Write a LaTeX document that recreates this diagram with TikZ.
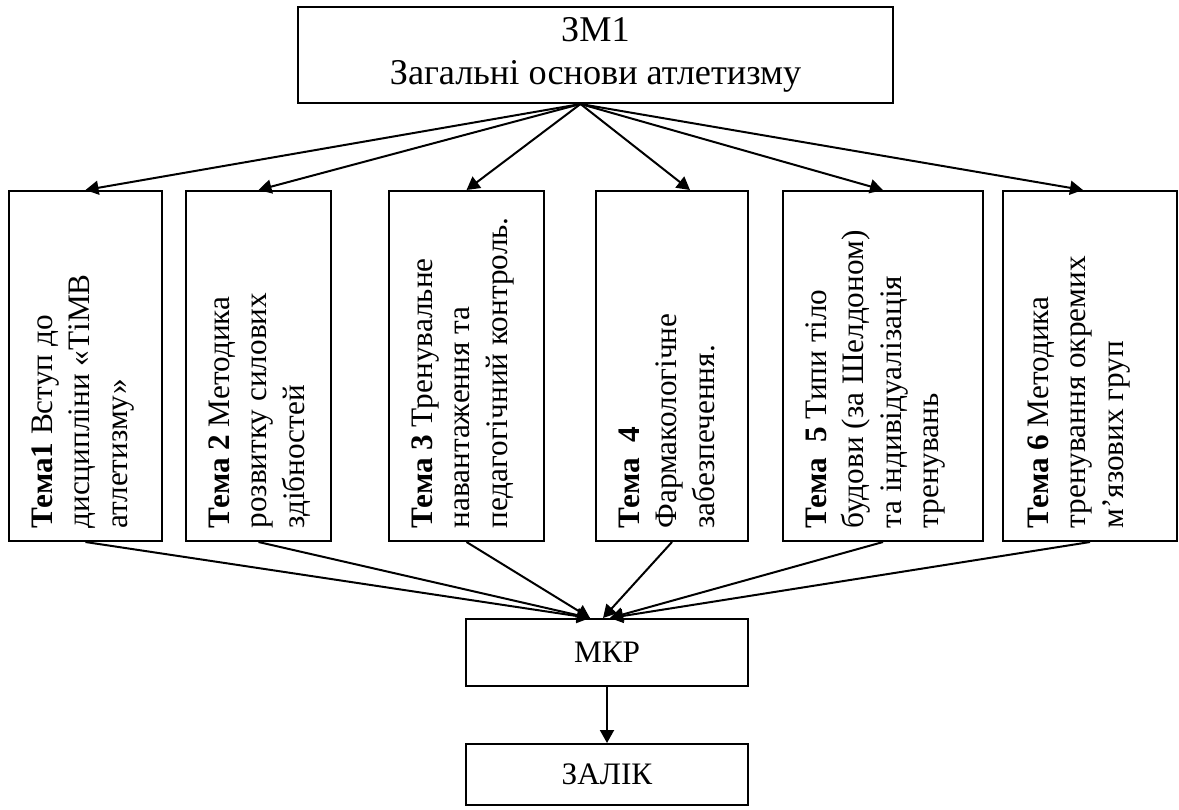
\documentclass[tikz,border=0pt]{standalone}
\usepackage{fontspec}
\setmainfont{Liberation Serif}
\usetikzlibrary{arrows.meta}

\begin{document}
\begin{tikzpicture}[x=0.4pt,y=-0.4pt,
  box/.style={draw,line width=0.8pt,inner sep=0pt},
  arr/.style={line width=0.8pt,-{Triangle[length=5.2pt,width=5.6pt]}},
  tema/.style={rotate=90,anchor=north west,align=left,inner sep=0pt,font=\fontsize{12.5}{15}\selectfont}]
\useasboundingbox (0,0) rectangle (1179,809);
\node[box,minimum width=238pt,minimum height=38.4pt,align=center,font=\fontsize{14.5}{17.2}\selectfont] (zm) at (595.5,55) {ЗМ1\\Загальні основи атлетизму};
\coordinate (top) at ([xshift=-6pt]zm.south);
% six topics
\foreach \n/\x/\w in {1/85.5/61.2,2/258.5/58,3/466.5/62,4/672/60.8,5/883/80,6/1090/69.6}
  \node[box,minimum width=\w pt,minimum height=140pt] (t\n) at (\x,366) {};
\node[tema] (l1) at (31,529) {\textbf{Тема1} Вступ до\\дисципліни «ТіМВ\\атлетизму»};
\node[tema] (l2) at (208,529) {\textbf{Тема 2} Методика\\розвитку силових\\здібностей};
\node[tema] (l3) at (411,529) {\textbf{Тема 3} Тренувальне\\навантаження та\\педагогічний контроль.};
\node[tema] (l4) at (618,529) {\textbf{Тема\ \ 4}\\Фармакологічне\\забезпечення.};
\node[tema] (l5) at (805,529) {\textbf{Тема\ \ 5} Типи тіло\\будови (за Шелдоном)\\та індивідуалізація\\тренувань};
\node[tema] (l6) at (1027,529) {\textbf{Тема 6} Методика\\тренування окремих\\м’язових груп};
\node[box,minimum width=112.8pt,minimum height=26.8pt,font=\fontsize{12.5}{15}\selectfont] (mkp) at (607,652.5) {МКР};
\node[box,minimum width=112.8pt,minimum height=24.4pt,font=\fontsize{12.5}{15}\selectfont] (zal) at (607,774.5) {ЗАЛІК};
\foreach \n/\s in {1/0,2/0,3/0,4/7.2,5/0,6/-2.8}
  \draw[arr] (top) -- ([xshift=\s pt]t\n.north);
\foreach \n/\s in {1/-6.8,2/-6.8,3/-6.8,4/-1.6,5/1.2,6/1.2}
  \draw[arr] (t\n.south) -- ([xshift=\s pt]mkp.north);
\draw[arr] (mkp) -- (zal);
\end{tikzpicture}
\end{document}
